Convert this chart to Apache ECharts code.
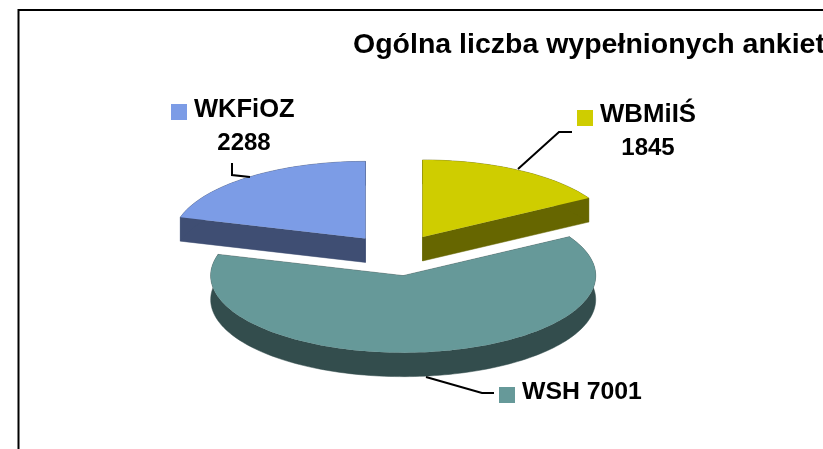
<!DOCTYPE html>
<html>
<head>
<meta charset="utf-8">
<style>
  html, body { margin: 0; padding: 0; background: #fff; overflow: hidden; }
  #chart { width: 823px; height: 449px; }
</style>
</head>
<body>
<div id="chart"></div>
<script src="https://cdn.jsdelivr.net/npm/echarts@6/dist/echarts.min.js"></script>
<script>
const titleText = "Ogólna liczba wypełnionych ankiet";
const categories = ["WBMiIŚ", "WSH", "WKFiOZ"];
const values = [1845, 7001, 2288];

const topColors = ["#cfcd00", "#669999", "#7c9ce6"];
const wallColors = ["#666600", "#334d4d", "#3f4e73"];

// pie geometry, picked by measuring the reference
const pie = { cx: 396.7, cy: 255, rx: 192.5, ry: 77, depth: 24, explode: 52 };
const font = '"Liberation Sans", Arial, sans-serif';

// where the key, texts and leader go for each slice (text y is the top of the line)
const labelLayout = [
  {
    key: [577, 110],
    name: { x: 600, y: 102, size: 25.8 },
    value: { x: 648, y: 136, size: 24 },
    leader: [[518, 169], [559, 132], [572, 132]],
  },
  {
    key: [499, 387],
    name: { x: 522, y: 380, size: 24.8 },
    leader: [[426, 377], [482, 393], [494, 393]],
  },
  {
    key: [171, 104],
    name: { x: 194, y: 97, size: 25.5 },
    value: { x: 244, y: 131, size: 24 },
    leader: [[232, 163], [232, 175], [250, 177]],
  },
];

const total = values.reduce((a, b) => a + b, 0);

function sliceAngles(index) {
  const before = values.slice(0, index).reduce((a, b) => a + b, 0);
  return [(before / total) * 360, ((before + values[index]) / total) * 360];
}

function rimPoint(center, deg) {
  const rad = (deg * Math.PI) / 180;
  return [center[0] + pie.rx * Math.sin(rad), center[1] - pie.ry * Math.cos(rad)];
}

function arcPoints(center, from, to) {
  const pts = [];
  const steps = Math.ceil((to - from) / 1.5);
  for (let i = 0; i <= steps; i++) {
    pts.push(rimPoint(center, from + ((to - from) * i) / steps));
  }
  return pts;
}

function down(pts) {
  return pts.map((p) => [p[0], p[1] + pie.depth]);
}

function labelText(text, pos, align) {
  return {
    type: "text",
    style: {
      text,
      x: pos.x,
      y: pos.y,
      align,
      fill: "#000",
      font: `bold ${pos.size}px ${font}`,
    },
  };
}

function renderSlice(params, api) {
  const i = api.value(0);
  const [start, end] = sliceAngles(i);
  const mid = ((start + end) / 2) * (Math.PI / 180);
  const center = [
    pie.cx + pie.explode * Math.sin(mid),
    pie.cy - pie.explode * (pie.ry / pie.rx) * Math.cos(mid),
  ];
  const arc = arcPoints(center, start, end);
  const wallStyle = { fill: wallColors[i], stroke: wallColors[i], lineWidth: 0.5 };

  const faces = [
    [center, arc[0]],
    [center, arc[arc.length - 1]],
    arc,
  ];
  const children = faces.map((face) => ({
    type: "polygon",
    shape: { points: face.concat(down(face).reverse()) },
    style: wallStyle,
  }));
  children.push({
    type: "polygon",
    shape: { points: [center].concat(arc) },
    style: { fill: topColors[i] },
  });

  const layout = labelLayout[i];
  children.push({
    type: "polyline",
    shape: { points: layout.leader },
    style: { stroke: "#000", lineWidth: 2, fill: null },
  });
  children.push({
    type: "rect",
    shape: { x: layout.key[0], y: layout.key[1], width: 16, height: 16 },
    style: { fill: topColors[i] },
  });
  if (layout.value) {
    children.push(labelText(categories[i], layout.name, "left"));
    children.push(labelText(String(values[i]), layout.value, "center"));
  } else {
    children.push(labelText(categories[i] + " " + values[i], layout.name, "left"));
  }
  return { type: "group", children };
}

const chart = echarts.init(document.getElementById("chart"));
chart.setOption({
  animation: false,
  backgroundColor: "#fff",
  title: {
    text: titleText,
    left: 348,
    top: 26,
    textStyle: { fontFamily: font, fontWeight: "bold", fontSize: 28.5, color: "#000" },
  },
  graphic: [
    {
      type: "rect",
      shape: { x: 18.5, y: 10, width: 900, height: 600 },
      style: { fill: null, stroke: "#000", lineWidth: 2 },
    },
  ],
  series: [
    {
      type: "custom",
      coordinateSystem: "none",
      silent: true,
      data: values.map((v, i) => [i, v]),
      renderItem: renderSlice,
    },
  ],
});
</script>
</body>
</html>
